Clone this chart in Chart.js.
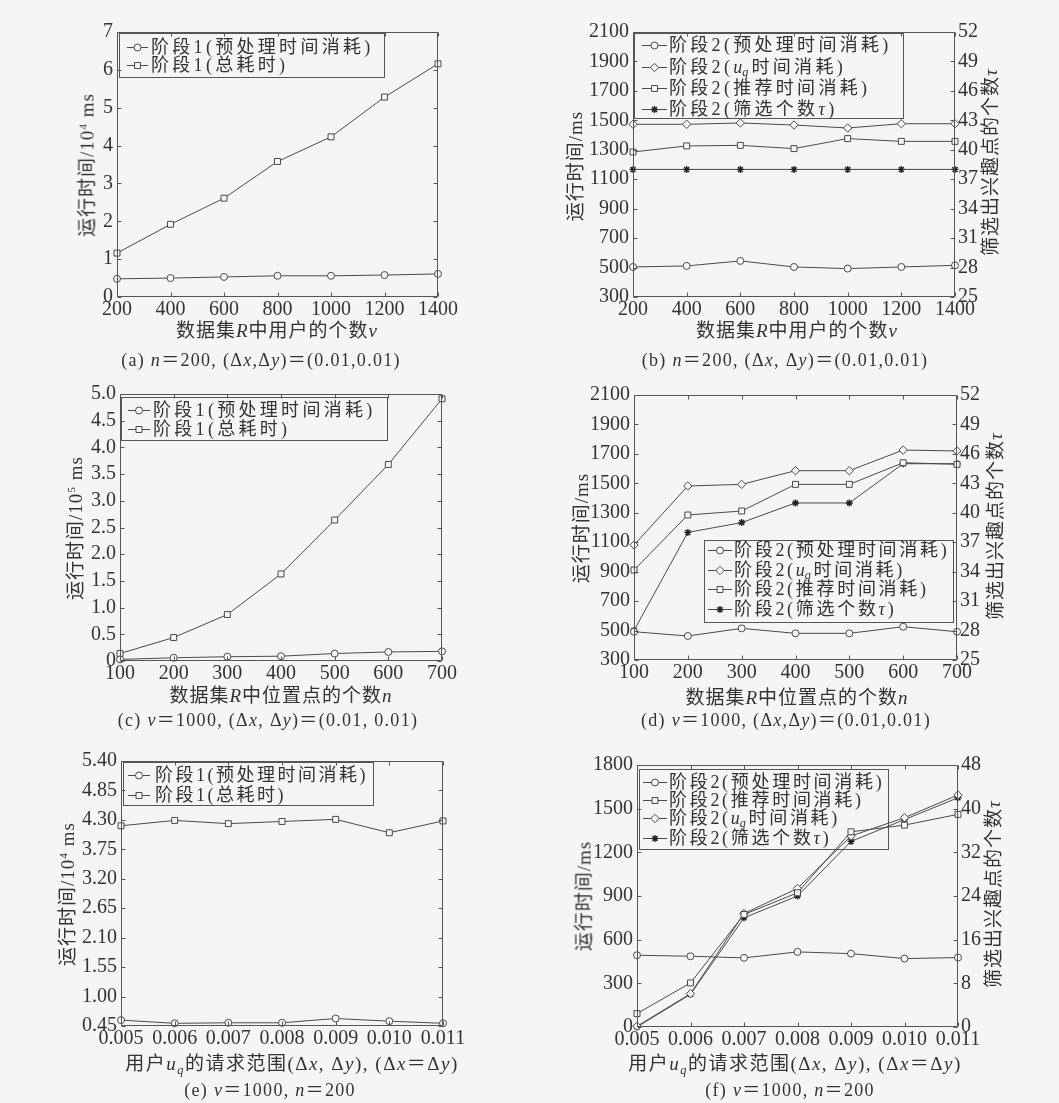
<!DOCTYPE html>
<html><head><meta charset="utf-8">
<script src="https://cdn.jsdelivr.net/npm/chart.js@4.4.0/dist/chart.umd.min.js"></script>
<style>
html,body{margin:0;padding:0;background:#f5f5f5;}
#wrap{position:relative;width:1059px;height:1103px;overflow:hidden;}
canvas{position:absolute;left:0;top:0;}
.t{position:absolute;white-space:nowrap;color:#333;font-family:"Liberation Serif","Noto Sans CJK SC",serif;transform:translate(-50%,-50%);line-height:1;}
.r{transform:translate(-50%,-50%) rotate(-90deg);}
.ax{font-size:19px;letter-spacing:1px;}
.cap{font-size:18px;letter-spacing:1.3px;}
sub{font-size:0.65em;vertical-align:-0.35em;line-height:0;}
sup{font-size:0.6em;vertical-align:0.6em;line-height:0;}
</style></head>
<body><div id="wrap">
<!-- (a) -->
<div class="t ax r" style="left:87px;top:165px">运行时间/10<sup>4</sup> ms</div>
<div class="t ax" style="left:277px;top:330px">数据集<i>R</i>中用户的个数<i>v</i></div>
<div class="t cap" style="left:261px;top:360px">(a) <i>n</i>＝200, (Δ<i>x</i>,Δ<i>y</i>)＝(0.01,0.01)</div>
<!-- (b) -->
<div class="t ax r" style="left:575px;top:166px">运行时间/ms</div>
<div class="t ax r" style="left:990px;top:162px">筛选出兴趣点的个数<i>τ</i></div>
<div class="t ax" style="left:797px;top:330px">数据集<i>R</i>中用户的个数<i>v</i></div>
<div class="t cap" style="left:785px;top:360px">(b) <i>n</i>＝200, (Δ<i>x</i>, Δ<i>y</i>)＝(0.01,0.01)</div>
<!-- (c) -->
<div class="t ax r" style="left:75px;top:528px">运行时间/10<sup>5</sup> ms</div>
<div class="t ax" style="left:281px;top:695px">数据集<i>R</i>中位置点的个数<i>n</i></div>
<div class="t cap" style="left:268px;top:720px">(c) <i>v</i>＝1000, (Δ<i>x</i>, Δ<i>y</i>)＝(0.01, 0.01)</div>
<!-- (d) -->
<div class="t ax r" style="left:581px;top:528px">运行时间/ms</div>
<div class="t ax r" style="left:995px;top:526px">筛选出兴趣点的个数<i>τ</i></div>
<div class="t ax" style="left:797px;top:697px">数据集<i>R</i>中位置点的个数<i>n</i></div>
<div class="t cap" style="left:786px;top:720px">(d) <i>v</i>＝1000, (Δ<i>x</i>,Δ<i>y</i>)＝(0.01,0.01)</div>
<!-- (e) -->
<div class="t ax r" style="left:67px;top:894px">运行时间/10<sup>4</sup> ms</div>
<div class="t ax" style="left:292px;top:1063px;letter-spacing:1.5px">用户<i>u<sub>q</sub></i>的请求范围(Δ<i>x</i>, Δ<i>y</i>), (Δ<i>x</i>＝Δ<i>y</i>)</div>
<div class="t cap" style="left:270px;top:1090px">(e) <i>v</i>＝1000, <i>n</i>＝200</div>
<!-- (f) -->
<div class="t ax r" style="left:584px;top:896px">运行时间/ms</div>
<div class="t ax r" style="left:993px;top:894px">筛选出兴趣点的个数<i>τ</i></div>
<div class="t ax" style="left:795px;top:1063px;letter-spacing:1.5px">用户<i>u<sub>q</sub></i>的请求范围(Δ<i>x</i>, Δ<i>y</i>), (Δ<i>x</i>＝Δ<i>y</i>)</div>
<div class="t cap" style="left:790px;top:1090px">(f) <i>v</i>＝1000, <i>n</i>＝200</div>
</div>
<script>
// ---------- categories ----------
const xUsers = ['200','400','600','800','1000','1200','1400'];
const xPoints = ['100','200','300','400','500','600','700'];
const xRange = ['0.005','0.006','0.007','0.008','0.009','0.010','0.011'];

// ---------- series values ----------
const aPre   = [0.48,0.50,0.53,0.56,0.56,0.58,0.61];
const aTotal = [1.16,1.92,2.61,3.58,4.23,5.28,6.16];

const bPre = [504,511,545,504,493,504,515];
const bUq  = [1473,1473,1482,1468,1448,1477,1477];
const bRec = [1285,1326,1330,1308,1376,1357,1357];
const bTau = [38,38,38,38,38,38,38];

const cPre   = [0.03,0.06,0.08,0.09,0.14,0.17,0.18];
const cTotal = [0.14,0.44,0.87,1.63,2.64,3.68,4.91];

const dPre = [492,463,515,481,481,526,492];
const dUq  = [1081,1482,1493,1586,1586,1726,1720];
const dRec = [911,1285,1312,1493,1493,1640,1629];
const dTau = [28,38,39,41,41,45,45];

const ePre   = [0.56,0.50,0.51,0.51,0.59,0.54,0.50];
const eTotal = [4.19,4.29,4.23,4.27,4.31,4.06,4.28];

const fPre = [493,486,475,516,504,470,477];
const fRec = [92,303,773,922,1341,1387,1461];
const fUq  = [5,229,780,952,1312,1438,1594];
const fTau = [0,6,20,24,34,38,42];

// ---------- labels ----------
const lab1Pre = '阶段1(预处理时间消耗)';
const lab1Tot = '阶段1(总耗时)';
const lab2Pre = '阶段2(预处理时间消耗)';
const lab2Uq  = '阶段2(uq时间消耗)';
const lab2Rec = '阶段2(推荐时间消耗)';
const lab2Tau = '阶段2(筛选个数τ)';

// ---------- axis ranges / ticks ----------
const yA = {min:0, max:7, step:1};
const yB = {min:300, max:2100, step:200};
const yB2 = {min:25, max:52, step:3};
const yC = {min:0, max:5, step:0.5};
const yE = {min:0.45, max:5.40, step:0.55};
const yF = {min:0, max:1800, step:300};
const yF2 = {min:0, max:48, step:8};

const W = 1059, H = 1103;
const BG = '#f5f5f5', LINE = '#4a4a4a', TXT = '#333', FRAME = '#555';
const FNUM = '"Liberation Serif", "Noto Sans CJK SC", serif';

const MK = {
  circle: {pointStyle:'circle', pointRadius:3.5},
  square: {pointStyle:'rect', pointRadius:4.2},
  diamond:{pointStyle:'rectRot', pointRadius:4.2},
  star:   {pointStyle:'star', pointRadius:3.5}
};

function ds(label, data, mk, axis){
  const m = MK[mk];
  return {
    label, data, yAxisID: axis || 'y',
    borderColor: LINE, borderWidth: 1, tension: 0, clip: false,
    pointStyle: m.pointStyle, pointRadius: m.pointRadius,
    pointBorderColor: mk === 'star' ? '#222' : LINE,
    pointBackgroundColor: mk === 'star' ? '#222' : BG,
    pointBorderWidth: mk === 'star' ? 1.4 : 1,
    _mk: mk
  };
}

function drawMarker(ctx, mk, x, y){
  const m = MK[mk];
  const r = m.pointRadius;
  ctx.save();
  ctx.lineWidth = mk === 'star' ? 1.4 : 1;
  ctx.strokeStyle = mk === 'star' ? '#222' : LINE;
  ctx.fillStyle = mk === 'star' ? '#222' : BG;
  ctx.beginPath();
  if (mk === 'circle') { ctx.arc(x, y, r, 0, Math.PI*2); ctx.fill(); ctx.stroke(); }
  else if (mk === 'square') { const s = r*Math.SQRT1_2; ctx.rect(x-s, y-s, 2*s, 2*s); ctx.fill(); ctx.stroke(); }
  else if (mk === 'diamond') { ctx.moveTo(x, y-r); ctx.lineTo(x+r, y); ctx.lineTo(x, y+r); ctx.lineTo(x-r, y); ctx.closePath(); ctx.fill(); ctx.stroke(); }
  else {
    for (let k=0;k<4;k++){ const a = k*Math.PI/4; ctx.moveTo(x+Math.cos(a)*r, y+Math.sin(a)*r); ctx.lineTo(x-Math.cos(a)*r, y-Math.sin(a)*r); }
    ctx.stroke();
  }
  ctx.restore();
}

function drawRich(ctx, str, x, y, sp){
  const F = 18, SP = sp;
  ctx.textBaseline = 'middle';
  ctx.textAlign = 'left';
  ctx.fillStyle = TXT;
  let cx = x, i = 0;
  while (i < str.length){
    if (str.substr(i,2) === 'uq'){
      ctx.font = `italic ${F}px "Liberation Serif"`;
      ctx.fillText('u', cx, y+1); cx += ctx.measureText('u').width;
      ctx.font = `italic ${Math.round(F*0.65)}px "Liberation Serif"`;
      ctx.fillText('q', cx, y+6); cx += ctx.measureText('q').width + SP;
      i += 2; continue;
    }
    const ch = str[i];
    if (ch === 'τ') ctx.font = `italic ${F}px "Liberation Serif"`;
    else ctx.font = `${F}px ${FNUM}`;
    ctx.fillText(ch, cx, y+1);
    cx += ctx.measureText(ch).width + SP;
    i++;
  }
}

const framePlugin = {
  id: 'frame',
  afterDatasetsDraw(chart){
    const {ctx, chartArea: a, scales} = chart;
    ctx.save();
    ctx.strokeStyle = FRAME; ctx.lineWidth = 1;
    const L = Math.round(a.left)+0.5, R = Math.round(a.right)-0.5, T = Math.round(a.top)+0.5, B = Math.round(a.bottom)-0.5;
    ctx.beginPath();
    ctx.rect(L, T, R-L, B-T);
    const xs = scales.x;
    xs.ticks.forEach((t,i)=>{
      const px = Math.round(xs.getPixelForTick(i))+0.5;
      ctx.moveTo(px, B); ctx.lineTo(px, B-4);
      ctx.moveTo(px, T); ctx.lineTo(px, T+4);
    });
    const ys = scales.y;
    ys.ticks.forEach((t,i)=>{
      const py = Math.round(ys.getPixelForTick(i))+0.5;
      ctx.moveTo(L, py); ctx.lineTo(L+4, py);
      ctx.moveTo(R, py); ctx.lineTo(R-4, py);
    });
    ctx.stroke();
    ctx.restore();
  }
};

function makeLegendPlugin(lg){
  return {
    id: 'innerLegend',
    beforeDatasetsDraw(chart){
      const ctx = chart.ctx;
      ctx.save();
      ctx.fillStyle = BG;
      ctx.fillRect(lg.x, lg.y, lg.w, lg.h);
      ctx.strokeStyle = FRAME; ctx.lineWidth = 1;
      ctx.strokeRect(lg.x+0.5, lg.y+0.5, lg.w, lg.h);
      chart.data.datasets.forEach((d,i)=>{
        const y = lg.rows[i];
        ctx.strokeStyle = LINE; ctx.lineWidth = 1;
        ctx.beginPath(); ctx.moveTo(lg.x+lg.s0, y+0.5); ctx.lineTo(lg.x+lg.s1, y+0.5); ctx.stroke();
        drawMarker(ctx, d._mk, lg.x+(lg.s0+lg.s1)/2, y+0.5);
        drawRich(ctx, d.label, lg.x+lg.tx, y, lg.sp);
      });
      ctx.restore();
    }
  };
}

function tickFont(){ return {family: FNUM, size: 20, lineHeight: 1}; }

function makeChart(cfg){
  const c = document.createElement('canvas');
  c.width = W; c.height = H;
  const wrap = document.getElementById('wrap');
  wrap.insertBefore(c, wrap.firstChild);
  const hasY1 = !!cfg.y1;
  const scales = {
    x: {
      type: 'category', offset: false,
      grid: {display:false, drawTicks:false}, border: {display:false},
      ticks: {font: tickFont(), color: TXT, padding: 3, maxRotation: 0, autoSkip: false},
      afterFit: s => { s.height = 28; }
    },
    y: {
      type: 'linear', position: 'left', min: cfg.y.min, max: cfg.y.max,
      grid: {display:false, drawTicks:false}, border: {display:false},
      ticks: {stepSize: cfg.y.step, font: tickFont(), color: TXT, padding: 4, autoSkip: false, callback: cfg.fmt},
      afterFit: s => { s.width = 60; }
    }
  };
  if (hasY1){
    scales.y1 = {
      type: 'linear', position: 'right', min: cfg.y1.min, max: cfg.y1.max,
      grid: {display:false, drawTicks:false}, border: {display:false},
      ticks: {stepSize: cfg.y1.step, font: tickFont(), color: TXT, padding: 3, autoSkip: false, callback: v => String(Math.round(v))},
      afterFit: s => { s.width = 45; }
    };
  }
  new Chart(c, {
    type: 'line',
    data: {labels: cfg.labels, datasets: cfg.datasets},
    options: {
      responsive: false, animation: false, events: [],
      layout: {padding: {left: cfg.L-60, top: cfg.T, right: W-cfg.R-(hasY1?45:0), bottom: H-cfg.B-28}},
      plugins: {legend: {display:false}, tooltip: {enabled:false}},
      scales
    },
    plugins: [makeLegendPlugin(cfg.legend), framePlugin]
  });
}

const fmtInt = v => String(Math.round(v));

// (a)
makeChart({L:117, R:438, T:32, B:297, labels:xUsers, y:yA, fmt:fmtInt,
  datasets:[ds(lab1Pre, aPre, 'circle'), ds(lab1Tot, aTotal, 'square')],
  legend:{x:119, y:33, w:265, h:44, rows:[47,65], s0:8, s1:29, tx:32, sp:3.3}});
// (b)
makeChart({L:633, R:955, T:32, B:297, labels:xUsers, y:yB, y1:yB2, fmt:fmtInt,
  datasets:[ds(lab2Pre, bPre, 'circle'), ds(lab2Uq, bUq, 'diamond'), ds(lab2Rec, bRec, 'square'), ds(lab2Tau, bTau, 'star', 'y1')],
  legend:{x:634, y:33, w:269, h:85, rows:[45,67,88,109], s0:8, s1:33, tx:35, sp:3.3}});
// (c)
makeChart({L:120, R:442, T:394, B:661, labels:xPoints, y:yC, fmt: v => v === 0 ? '0' : v.toFixed(1),
  datasets:[ds(lab1Pre, cPre, 'circle'), ds(lab1Tot, cTotal, 'square')],
  legend:{x:121, y:397, w:266, h:43, rows:[410,429], s0:7, s1:29, tx:32, sp:3.3}});
// (d)
makeChart({L:634, R:957, T:395, B:660, labels:xPoints, y:yB, y1:yB2, fmt:fmtInt,
  datasets:[ds(lab2Pre, dPre, 'circle'), ds(lab2Uq, dUq, 'diamond'), ds(lab2Rec, dRec, 'square'), ds(lab2Tau, dTau, 'star', 'y1')],
  legend:{x:704, y:540, w:249, h:82, rows:[550,570,589,609], s0:4, s1:28, tx:30, sp:2.7}});
// (e)
makeChart({L:121, R:443, T:761, B:1026, labels:xRange, y:yE, fmt: v => v.toFixed(2),
  datasets:[ds(lab1Pre, ePre, 'circle'), ds(lab1Tot, eTotal, 'square')],
  legend:{x:123, y:762, w:250, h:43, rows:[775,795], s0:5, s1:27, tx:32, sp:2.5}});
// (f)
makeChart({L:637, R:958, T:765, B:1027, labels:xRange, y:yF, y1:yF2, fmt:fmtInt,
  datasets:[ds(lab2Pre, fPre, 'circle'), ds(lab2Rec, fRec, 'square'), ds(lab2Uq, fUq, 'diamond'), ds(lab2Tau, fTau, 'star', 'y1')],
  legend:{x:639, y:769, w:249, h:80, rows:[782,800,818,838], s0:4, s1:28, tx:30, sp:2.7}});
</script>
</body></html>
